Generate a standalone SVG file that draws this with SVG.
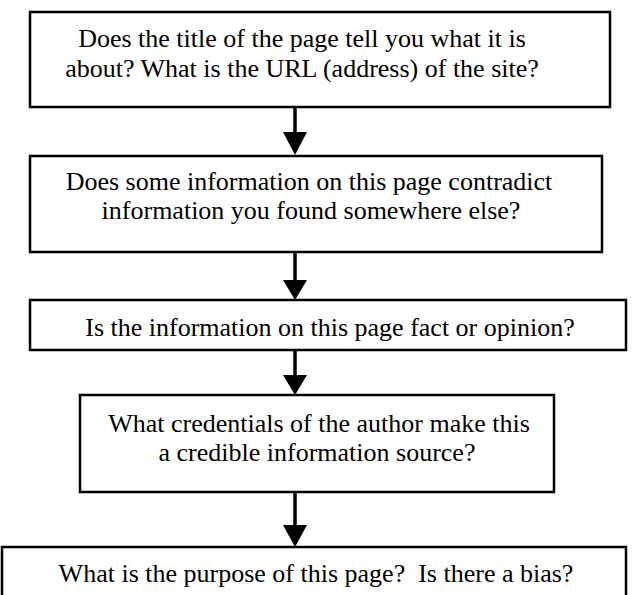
<svg xmlns="http://www.w3.org/2000/svg" width="632" height="595" viewBox="0 0 632 595">
<style>
.box{fill:#fff;stroke:#000;stroke-width:2.5}
.t{font-family:"Liberation Serif","Times New Roman",serif;font-size:26px;fill:#000;text-anchor:middle}
.c{stroke:#000;stroke-width:3.5;fill:none}
.h{fill:#000}
</style>
<rect width="632" height="595" fill="#fff"/>
<g id="n1"><rect class="box" x="30" y="12" width="580" height="95"/>
<text class="t" x="302" y="47">Does the title of the page tell you what it is</text>
<text class="t" x="302" y="77">about? What is the URL (address) of the site?</text></g>
<g id="n2"><rect class="box" x="30" y="156" width="572" height="96"/>
<text class="t" x="309" y="190">Does some information on this page contradict</text>
<text class="t" x="311" y="219">information you found somewhere else?</text></g>
<g id="n3"><rect class="box" x="30" y="300" width="596" height="50"/>
<text class="t" x="330" y="336">Is the information on this page fact or opinion?</text></g>
<g id="n4"><rect class="box" x="80" y="395" width="474" height="97"/>
<text class="t" x="319" y="432">What credentials of the author make this</text>
<text class="t" x="317" y="461">a credible information source?</text></g>
<g id="n5"><rect class="box" x="2" y="547" width="624" height="60"/>
<text class="t" x="316" y="582" xml:space="preserve">What is the purpose of this page?  Is there a bias?</text></g>
<g id="connectors">
<line class="c" x1="295" y1="107" x2="295" y2="134"/><polygon class="h" points="283,132 307,132 295,155"/>
<line class="c" x1="295" y1="252" x2="295" y2="282"/><polygon class="h" points="283,280 307,280 295,300"/>
<line class="c" x1="295" y1="350" x2="295" y2="377"/><polygon class="h" points="283,375 307,375 295,395"/>
<line class="c" x1="295" y1="492" x2="295" y2="527"/><polygon class="h" points="283,525 307,525 295,547"/>
</g>
</svg>
